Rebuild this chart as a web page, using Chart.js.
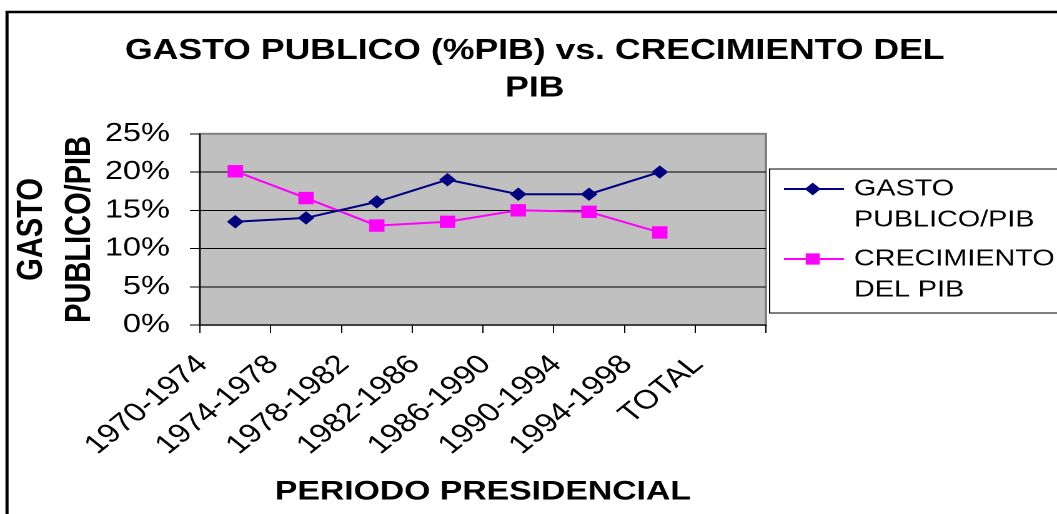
<!DOCTYPE html>
<html lang="es">
<head>
  <meta charset="UTF-8">
  <title>Gasto publico vs crecimiento del PIB</title>
  <script src="https://cdn.jsdelivr.net/npm/chart.js"></script>
  <style>
    html, body { margin: 0; padding: 0; background: #fff; overflow: hidden; }
    /* the original chart has its text widened along the baseline, so the whole canvas is stretched */
    #wrap { width: 846px; height: 514px; transform: scaleX(1.2494); transform-origin: 0 0; }
  </style>
</head>
<body>
  <div id="wrap"><canvas id="chart" width="846" height="514"></canvas></div>

  <script>
    const periods = ['1970-1974', '1974-1978', '1978-1982', '1982-1986', '1986-1990', '1990-1994', '1994-1998', 'TOTAL'];
    const gastoPublico = [13.5, 14.0, 16.1, 19.0, 17.1, 17.1, 20.0, null];
    const crecimientoPib = [20.1, 16.6, 13.0, 13.5, 15.0, 14.8, 12.1, null];
    const seriesNames = [['GASTO', 'PUBLICO/PIB'], ['CRECIMIENTO', 'DEL PIB']];
    const yTicks = [0, 5, 10, 15, 20, 25];

    const FONT = '"Liberation Sans", Arial, sans-serif';

    // grey plot area and the outer frame
    const frame = {
      id: 'frame',
      beforeDraw(chart) {
        const { ctx, chartArea: a } = chart;
        ctx.save();
        ctx.fillStyle = '#fff';
        ctx.fillRect(0, 0, chart.width, chart.height);
        ctx.fillStyle = '#C0C0C0';
        ctx.fillRect(a.left, a.top, a.right - a.left, a.bottom - a.top);
        ctx.strokeStyle = '#808080';
        ctx.lineWidth = 2;
        ctx.strokeRect(a.left, a.top, a.right - a.left, a.bottom - a.top);
        ctx.strokeStyle = '#000';
        ctx.lineWidth = 2.5;
        ctx.strokeRect(5.6, 12, chart.width + 20, chart.height + 20);
        ctx.restore();
      }
    };

    // boxed legend at the right, two-line labels
    const sideLegend = {
      id: 'sideLegend',
      afterDraw(chart) {
        const { ctx } = chart;
        const box = { left: 616, top: 169, bottom: 313 };
        ctx.save();
        ctx.strokeStyle = '#000';
        ctx.lineWidth = 1;
        ctx.strokeRect(box.left, box.top, chart.width, box.bottom - box.top);
        chart.data.datasets.forEach((ds, i) => {
          const y = box.top + 20 + i * 70;
          ctx.strokeStyle = ds.borderColor;
          ctx.lineWidth = 2;
          ctx.beginPath();
          ctx.moveTo(627.5, y);
          ctx.lineTo(675.5, y);
          ctx.stroke();
          ctx.fillStyle = ds.backgroundColor;
          Chart.helpers.drawPoint(ctx, {
            pointStyle: ds.pointStyle,
            radius: ds.pointStyle === 'rect' ? 6.5 : 5,
            rotation: 0,
            borderWidth: 1
          }, 650.5, y);
          ctx.fillStyle = '#000';
          ctx.font = '23px ' + FONT;
          ctx.textBaseline = 'middle';
          ctx.textAlign = 'left';
          ds.label.forEach((line, j) => ctx.fillText(line, 683.5, y + j * 31));
        });
        ctx.restore();
      }
    };

    new Chart(document.getElementById('chart'), {
      type: 'line',
      data: {
        labels: periods,
        datasets: [
          {
            label: seriesNames[0],
            data: gastoPublico,
            borderColor: '#000080',
            backgroundColor: '#000080',
            borderWidth: 2,
            pointStyle: 'rectRot',
            pointRadius: 6,
            pointBorderWidth: 1,
            tension: 0
          },
          {
            label: seriesNames[1],
            data: crecimientoPib,
            borderColor: '#FF00FF',
            backgroundColor: '#FF00FF',
            borderWidth: 2,
            pointStyle: 'rect',
            pointRadius: 8,
            pointBorderWidth: 1,
            tension: 0
          }
        ]
      },
      options: {
        responsive: false,
        animation: false,
        devicePixelRatio: 2,
        layout: { padding: { left: 10, right: 0, top: 0, bottom: 0 } },
        plugins: {
          legend: { display: false },
          tooltip: { enabled: false },
          title: {
            display: true,
            text: ['GASTO PUBLICO (%PIB) vs. CRECIMIENTO DEL', 'PIB'],
            color: '#000',
            font: { family: FONT, size: 28.5, weight: 'bold', lineHeight: 1.33 },
            padding: { top: 32, bottom: 26 }
          }
        },
        scales: {
          x: {
            offset: true,
            afterFit: s => { s.height = 189; },
            grid: { display: true, drawOnChartArea: false, offset: true, tickLength: 8, tickColor: '#000' },
            border: { display: true, color: '#000', width: 1 },
            ticks: {
              color: '#000',
              font: { family: FONT, size: 26.5 },
              minRotation: 45,
              maxRotation: 45,
              autoSkip: false,
              padding: 16,
              labelOffset: -26
            },
            title: {
              display: true,
              text: 'PERIODO PRESIDENCIAL',
              color: '#000',
              font: { family: FONT, size: 27, weight: 'bold' },
              padding: { top: 0, bottom: 6 }
            }
          },
          y: {
            min: 0,
            max: 25,
            afterFit: s => { s.width = 150; },
            afterBuildTicks: s => { s.ticks = yTicks.map(v => ({ value: v })); },
            grid: {
              color: c => (c.tick && c.tick.value === 25 ? '#808080' : '#000'),
              lineWidth: 1,
              tickLength: 8,
              tickColor: '#000'
            },
            border: { display: true, color: '#000', width: 1 },
            ticks: {
              color: '#000',
              font: { family: FONT, size: 26 },
              padding: 16,
              callback: v => v + '%'
            },
            title: {
              display: true,
              text: ['GASTO', 'PUBLICO/PIB'],
              color: '#000',
              font: { family: FONT, size: 29, weight: 'bold', lineHeight: 1.32 },
              padding: { top: -3.6, bottom: 0 }
            }
          },
          // empty right-hand box that leaves room for the legend
          legendSpace: {
            type: 'linear',
            position: 'right',
            afterFit: s => { s.width = 233; },
            grid: { display: false },
            border: { display: false },
            ticks: { display: false }
          }
        }
      },
      plugins: [frame, sideLegend]
    });
  </script>
</body>
</html>
